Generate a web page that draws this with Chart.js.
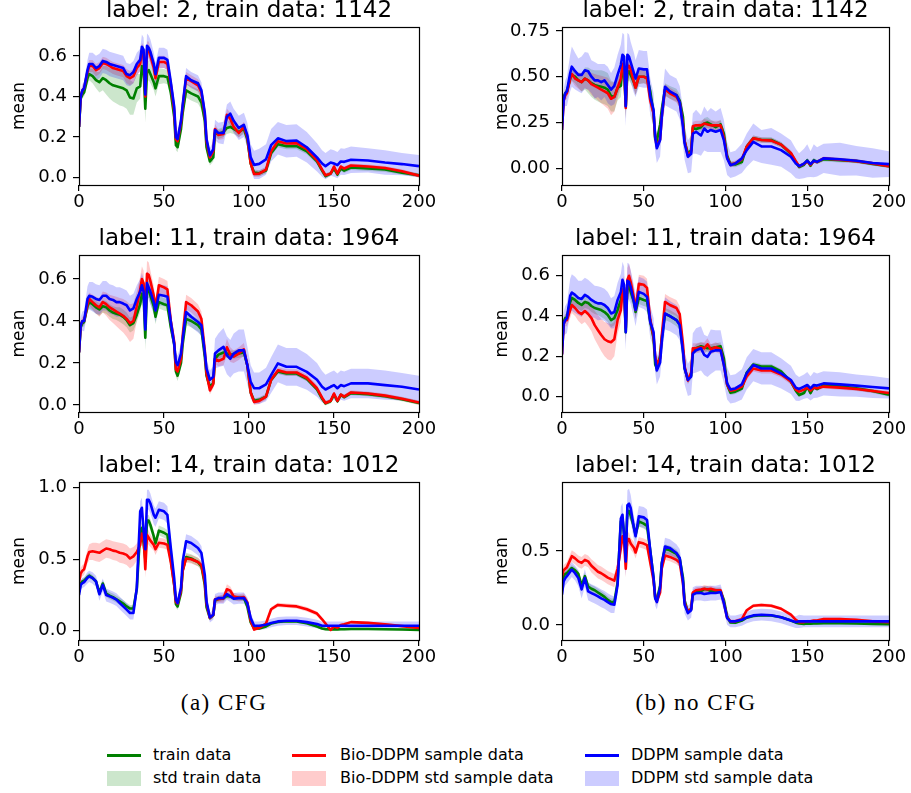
<!DOCTYPE html>
<html><head><meta charset="utf-8">
<script src="https://cdn.jsdelivr.net/npm/chart.js@4.4.1/dist/chart.umd.min.js"></script>
<style>
html,body{margin:0;padding:0;background:#fff;}
#wrap{position:relative;width:911px;height:793px;overflow:hidden;background:#fff;}
canvas{position:absolute;}
.cap{position:absolute;font-family:"Liberation Serif",serif;font-size:23px;letter-spacing:1.5px;color:#000;white-space:nowrap;transform:translate(-50%,-50%);}
.leg{position:absolute;font-family:"DejaVu Sans",sans-serif;font-size:16px;line-height:20px;color:#000;white-space:nowrap;}
.sw{position:absolute;}
</style></head><body><div id="wrap"></div>
<script>
// ---------- data ----------
const X = [0,1,2,3,5,6,8,10,12,14, 16,18,20,22,24,26,28,30,32,34, 36,37,38,39,40,41,42,44,45,47, 50,52,54,56,57,58,60,61,63,66, 70,72,74,75,77,79,80,82,85,87, 89,91,94,97,99,101,103,106,110,113, 117,122,128,134,140,143,145,148,150,152, 154,156,160,170,180,190,200];
const xTicks = [0,50,100,150,200];
const yTicksA = [0,0.2,0.4,0.6];
const yTicksB = [0,0.25,0.5,0.75];
const yTicksC = [0,0.5,1.0];
const yTicksD = [0,0.5];

// label 2
const train2 = [0.25,0.39,0.41,0.42,0.49,0.51,0.50,0.48,0.47,0.49, 0.48,0.465,0.455,0.45,0.445,0.44,0.43,0.395,0.39,0.44, 0.45,0.55,0.53,0.34,0.52,0.53,0.51,0.47,0.44,0.50, 0.50,0.495,0.42,0.30,0.16,0.15,0.24,0.32,0.43,0.415, 0.40,0.37,0.28,0.15,0.08,0.10,0.22,0.215,0.225,0.245, 0.25,0.24,0.225,0.24,0.19,0.07,0.025,0.022,0.035,0.12, 0.165,0.155,0.155,0.13,0.08,0.035,0.008,0.02,0.045,0.015, 0.045,0.035,0.05,0.045,0.04,0.025,0.012];
const train2Sd = [0.02,0.02,0.02,0.02,0.03,0.03,0.035,0.04,0.05,0.06, 0.07,0.075,0.08,0.085,0.09,0.09,0.09,0.085,0.08,0.07, 0.06,0.05,0.05,0.07,0.05,0.05,0.045,0.04,0.04,0.04, 0.035,0.035,0.035,0.03,0.025,0.025,0.03,0.03,0.035,0.035, 0.035,0.035,0.03,0.025,0.02,0.02,0.025,0.025,0.025,0.03, 0.03,0.025,0.025,0.025,0.025,0.02,0.015,0.015,0.015,0.015, 0.015,0.015,0.015,0.015,0.015,0.015,0.012,0.012,0.012,0.012, 0.012,0.012,0.012,0.012,0.012,0.01,0.01];
const bioCFG2 = [0.25,0.40,0.43,0.44,0.52,0.55,0.55,0.53,0.54,0.565, 0.56,0.55,0.54,0.535,0.53,0.525,0.50,0.49,0.50,0.54, 0.56,0.625,0.61,0.40,0.63,0.63,0.60,0.54,0.49,0.57, 0.57,0.56,0.46,0.33,0.19,0.18,0.27,0.35,0.49,0.475, 0.455,0.42,0.31,0.18,0.10,0.13,0.24,0.21,0.215,0.31, 0.29,0.25,0.22,0.25,0.20,0.07,0.018,0.02,0.04,0.13, 0.18,0.168,0.17,0.14,0.085,0.04,0.012,0.02,0.055,0.02, 0.055,0.045,0.06,0.055,0.048,0.032,0.01];
const bioCFG2Sd = [0.02,0.02,0.02,0.02,0.025,0.03,0.03,0.03,0.03,0.03, 0.03,0.03,0.03,0.03,0.03,0.03,0.035,0.035,0.035,0.035, 0.035,0.04,0.04,0.05,0.04,0.04,0.04,0.035,0.035,0.03, 0.03,0.03,0.03,0.025,0.02,0.02,0.025,0.025,0.03,0.03, 0.03,0.03,0.025,0.02,0.02,0.02,0.025,0.025,0.025,0.03, 0.03,0.025,0.025,0.025,0.025,0.02,0.015,0.015,0.015,0.015, 0.015,0.015,0.015,0.015,0.015,0.012,0.01,0.01,0.01,0.01, 0.01,0.01,0.01,0.01,0.01,0.01,0.01];
const ddpmCFG2 = [0.25,0.40,0.43,0.44,0.53,0.56,0.56,0.54,0.55,0.575, 0.57,0.56,0.555,0.55,0.545,0.54,0.51,0.505,0.52,0.56, 0.58,0.645,0.63,0.41,0.65,0.64,0.62,0.56,0.51,0.59, 0.59,0.58,0.47,0.35,0.20,0.19,0.28,0.36,0.50,0.48, 0.465,0.43,0.32,0.19,0.11,0.14,0.235,0.22,0.22,0.30, 0.315,0.28,0.245,0.26,0.21,0.10,0.063,0.068,0.09,0.16, 0.194,0.18,0.183,0.15,0.10,0.07,0.057,0.075,0.07,0.062, 0.08,0.078,0.088,0.085,0.075,0.067,0.057];
const ddpmCFG2Sd = [0.02,0.03,0.03,0.035,0.05,0.055,0.055,0.06,0.06,0.06, 0.06,0.06,0.06,0.06,0.06,0.06,0.055,0.055,0.055,0.055, 0.055,0.06,0.06,0.07,0.06,0.06,0.06,0.055,0.055,0.05, 0.05,0.05,0.05,0.045,0.04,0.04,0.04,0.04,0.04,0.04, 0.04,0.04,0.04,0.035,0.035,0.04,0.05,0.05,0.055,0.06, 0.06,0.06,0.06,0.06,0.06,0.065,0.07,0.075,0.075,0.08, 0.08,0.08,0.08,0.075,0.07,0.065,0.065,0.065,0.065,0.065, 0.065,0.065,0.065,0.06,0.06,0.055,0.055];
const bioNo2 = [0.21,0.37,0.40,0.41,0.49,0.515,0.49,0.48,0.47,0.49, 0.48,0.46,0.45,0.44,0.43,0.42,0.41,0.38,0.39,0.44, 0.49,0.57,0.55,0.33,0.56,0.56,0.54,0.47,0.44,0.50, 0.50,0.49,0.37,0.30,0.17,0.12,0.16,0.28,0.43,0.41, 0.39,0.36,0.24,0.15,0.07,0.09,0.23,0.235,0.235,0.245, 0.24,0.235,0.235,0.235,0.17,0.06,0.02,0.028,0.05,0.12, 0.165,0.155,0.152,0.13,0.085,0.04,0.012,0.025,0.04,0.02, 0.04,0.035,0.055,0.048,0.04,0.028,0.012];
const bioNo2Sd = [0.02,0.03,0.03,0.03,0.04,0.04,0.04,0.045,0.05,0.05, 0.055,0.06,0.065,0.07,0.075,0.08,0.085,0.09,0.08,0.06, 0.05,0.05,0.05,0.06,0.05,0.05,0.045,0.04,0.04,0.04, 0.035,0.035,0.035,0.03,0.025,0.025,0.025,0.03,0.03,0.03, 0.03,0.03,0.03,0.025,0.02,0.02,0.025,0.025,0.025,0.025, 0.025,0.025,0.025,0.025,0.025,0.02,0.015,0.015,0.015,0.015, 0.015,0.015,0.015,0.015,0.015,0.012,0.01,0.01,0.01,0.01, 0.01,0.01,0.01,0.01,0.01,0.01,0.01];
const ddpmNo2 = [0.21,0.37,0.41,0.42,0.52,0.555,0.53,0.51,0.51,0.535, 0.53,0.50,0.48,0.48,0.47,0.48,0.455,0.43,0.45,0.51, 0.565,0.62,0.61,0.34,0.62,0.61,0.58,0.52,0.49,0.545, 0.54,0.54,0.39,0.32,0.17,0.11,0.155,0.28,0.445,0.42, 0.40,0.36,0.227,0.136,0.064,0.08,0.19,0.20,0.18,0.218, 0.20,0.21,0.20,0.21,0.155,0.055,0.018,0.027,0.055,0.10, 0.145,0.12,0.12,0.10,0.064,0.027,0.013,0.027,0.042,0.024, 0.042,0.036,0.055,0.05,0.042,0.03,0.024];
const ddpmNo2Sd = [0.04,0.06,0.07,0.08,0.10,0.11,0.10,0.09,0.10,0.10, 0.10,0.09,0.10,0.09,0.10,0.09,0.10,0.09,0.10,0.11, 0.11,0.12,0.12,0.11,0.12,0.12,0.11,0.11,0.10,0.10, 0.10,0.10,0.10,0.09,0.08,0.08,0.09,0.09,0.10,0.09, 0.09,0.09,0.10,0.09,0.09,0.10,0.11,0.12,0.11,0.12, 0.11,0.12,0.11,0.12,0.11,0.09,0.07,0.07,0.08,0.09, 0.10,0.09,0.10,0.09,0.09,0.08,0.07,0.08,0.09,0.07, 0.09,0.08,0.08,0.09,0.08,0.08,0.07];

// label 11
const train11 = [0.25,0.37,0.39,0.395,0.47,0.49,0.48,0.465,0.455,0.47, 0.465,0.45,0.44,0.435,0.43,0.42,0.405,0.38,0.39,0.43, 0.48,0.53,0.52,0.32,0.55,0.55,0.52,0.47,0.42,0.49, 0.48,0.475,0.37,0.29,0.16,0.14,0.20,0.29,0.41,0.40, 0.38,0.36,0.23,0.14,0.085,0.105,0.22,0.24,0.25,0.245, 0.24,0.24,0.245,0.25,0.19,0.06,0.02,0.025,0.04,0.12, 0.16,0.15,0.15,0.125,0.075,0.03,0.008,0.018,0.05,0.018, 0.048,0.038,0.057,0.052,0.042,0.028,0.01];
const train11Sd = [0.02,0.02,0.02,0.02,0.025,0.03,0.03,0.03,0.03,0.03, 0.03,0.03,0.03,0.03,0.035,0.035,0.035,0.035,0.035,0.035, 0.04,0.04,0.04,0.06,0.04,0.04,0.04,0.035,0.035,0.03, 0.03,0.03,0.03,0.03,0.025,0.025,0.025,0.03,0.03,0.03, 0.03,0.03,0.025,0.02,0.02,0.02,0.02,0.02,0.02,0.02, 0.02,0.02,0.02,0.02,0.02,0.015,0.012,0.012,0.012,0.012, 0.012,0.012,0.012,0.012,0.012,0.01,0.01,0.01,0.01,0.01, 0.01,0.01,0.01,0.01,0.01,0.01,0.01];
const bioCFG11 = [0.25,0.38,0.40,0.40,0.48,0.505,0.49,0.475,0.465,0.49, 0.48,0.465,0.455,0.445,0.435,0.425,0.41,0.39,0.40,0.47, 0.55,0.60,0.58,0.40,0.625,0.62,0.59,0.52,0.46,0.57, 0.56,0.55,0.40,0.30,0.17,0.16,0.22,0.33,0.49,0.475, 0.445,0.41,0.26,0.15,0.07,0.10,0.22,0.21,0.22,0.275, 0.24,0.23,0.245,0.265,0.19,0.06,0.015,0.02,0.04,0.12, 0.165,0.155,0.155,0.13,0.08,0.035,0.01,0.02,0.055,0.02, 0.05,0.04,0.06,0.055,0.045,0.03,0.012];
const bioCFG11Sd = [0.02,0.02,0.02,0.02,0.03,0.03,0.035,0.04,0.045,0.05, 0.055,0.06,0.065,0.07,0.075,0.08,0.085,0.09,0.085,0.07, 0.06,0.06,0.06,0.07,0.06,0.06,0.05,0.045,0.04,0.04, 0.04,0.04,0.04,0.035,0.03,0.03,0.03,0.03,0.035,0.035, 0.035,0.035,0.03,0.025,0.02,0.02,0.025,0.025,0.03,0.04, 0.035,0.03,0.03,0.03,0.025,0.02,0.015,0.015,0.015,0.015, 0.015,0.015,0.015,0.015,0.015,0.012,0.01,0.01,0.01,0.01, 0.01,0.01,0.01,0.01,0.01,0.01,0.01];
const ddpmCFG11 = [0.25,0.38,0.40,0.40,0.505,0.52,0.515,0.505,0.50,0.52, 0.52,0.505,0.50,0.49,0.49,0.483,0.475,0.45,0.46,0.505, 0.54,0.57,0.54,0.36,0.58,0.56,0.54,0.49,0.45,0.525, 0.52,0.515,0.395,0.29,0.205,0.19,0.245,0.315,0.443,0.42, 0.395,0.38,0.25,0.175,0.12,0.135,0.245,0.26,0.277,0.237, 0.22,0.245,0.26,0.26,0.19,0.11,0.08,0.08,0.098,0.142, 0.198,0.182,0.182,0.158,0.12,0.087,0.074,0.087,0.095,0.08, 0.095,0.09,0.103,0.103,0.095,0.087,0.074];
const ddpmCFG11Sd = [0.03,0.04,0.045,0.05,0.06,0.065,0.07,0.07,0.07,0.07, 0.07,0.07,0.07,0.07,0.07,0.07,0.07,0.07,0.07,0.065, 0.06,0.06,0.06,0.07,0.06,0.06,0.06,0.055,0.055,0.05, 0.05,0.05,0.05,0.05,0.045,0.045,0.045,0.05,0.05,0.05, 0.05,0.05,0.05,0.045,0.045,0.05,0.07,0.08,0.09,0.09, 0.09,0.095,0.1,0.1,0.09,0.08,0.075,0.075,0.08,0.085, 0.09,0.09,0.09,0.085,0.08,0.075,0.07,0.07,0.07,0.07, 0.07,0.07,0.07,0.07,0.07,0.065,0.065];
const bioNo11 = [0.21,0.36,0.38,0.38,0.43,0.455,0.44,0.42,0.41,0.425, 0.41,0.39,0.355,0.33,0.306,0.285,0.275,0.27,0.285,0.38, 0.43,0.52,0.54,0.34,0.58,0.60,0.57,0.49,0.43,0.56, 0.555,0.54,0.38,0.30,0.20,0.16,0.19,0.30,0.47,0.455, 0.44,0.41,0.26,0.15,0.08,0.12,0.24,0.24,0.245,0.24, 0.26,0.235,0.245,0.235,0.16,0.06,0.03,0.035,0.05,0.10, 0.14,0.13,0.13,0.11,0.075,0.035,0.025,0.035,0.045,0.03, 0.045,0.042,0.05,0.045,0.038,0.028,0.018];
const bioNo11Sd = [0.02,0.03,0.03,0.03,0.04,0.04,0.04,0.045,0.05,0.055, 0.06,0.065,0.07,0.075,0.08,0.085,0.09,0.09,0.085,0.07, 0.06,0.06,0.06,0.07,0.06,0.06,0.055,0.05,0.045,0.045, 0.045,0.045,0.04,0.035,0.03,0.03,0.03,0.035,0.04,0.04, 0.04,0.04,0.035,0.025,0.02,0.02,0.025,0.025,0.025,0.03, 0.03,0.025,0.025,0.025,0.025,0.02,0.015,0.015,0.015,0.015, 0.015,0.015,0.015,0.015,0.015,0.012,0.01,0.01,0.01,0.01, 0.01,0.01,0.01,0.01,0.01,0.01,0.01];
const ddpmNo11 = [0.21,0.36,0.38,0.39,0.50,0.517,0.505,0.49,0.485,0.505, 0.495,0.48,0.47,0.463,0.463,0.455,0.44,0.413,0.42,0.48, 0.52,0.58,0.555,0.32,0.575,0.57,0.545,0.47,0.43,0.52, 0.51,0.495,0.37,0.32,0.19,0.13,0.17,0.27,0.413,0.40, 0.38,0.355,0.223,0.14,0.083,0.10,0.215,0.23,0.24,0.207, 0.198,0.223,0.23,0.23,0.157,0.066,0.036,0.041,0.061,0.116, 0.157,0.14,0.14,0.116,0.083,0.045,0.038,0.05,0.058,0.041, 0.058,0.055,0.066,0.061,0.055,0.048,0.041];
const ddpmNo11Sd = [0.04,0.06,0.07,0.075,0.085,0.09,0.09,0.085,0.09,0.085, 0.085,0.085,0.08,0.085,0.08,0.08,0.08,0.075,0.08,0.085, 0.09,0.09,0.09,0.09,0.09,0.09,0.085,0.08,0.08,0.075, 0.075,0.075,0.08,0.07,0.07,0.07,0.07,0.075,0.08,0.075, 0.075,0.075,0.08,0.08,0.08,0.09,0.1,0.11,0.11,0.1, 0.1,0.11,0.1,0.1,0.09,0.08,0.07,0.07,0.075,0.08, 0.08,0.08,0.08,0.075,0.07,0.065,0.06,0.06,0.065,0.06, 0.065,0.06,0.06,0.06,0.055,0.055,0.05];

// label 14
const train14 = [0.27,0.33,0.345,0.35,0.375,0.385,0.37,0.345,0.265,0.33, 0.26,0.245,0.235,0.22,0.205,0.19,0.17,0.155,0.155,0.29, 0.70,0.72,0.61,0.50,0.77,0.77,0.74,0.66,0.61,0.70, 0.685,0.67,0.50,0.32,0.185,0.17,0.265,0.42,0.515,0.505, 0.48,0.45,0.32,0.165,0.088,0.108,0.21,0.223,0.228,0.243, 0.24,0.23,0.23,0.228,0.17,0.058,0.017,0.015,0.03,0.05, 0.061,0.066,0.065,0.052,0.03,0.016,0.011,0.008,0.01,0.009, 0.01,0.01,0.012,0.012,0.01,0.008,0.006];
const train14Sd = [0.02,0.02,0.02,0.02,0.02,0.02,0.02,0.02,0.025,0.025, 0.025,0.025,0.025,0.025,0.025,0.025,0.025,0.025,0.025,0.03, 0.04,0.04,0.04,0.05,0.04,0.04,0.04,0.035,0.035,0.035, 0.035,0.035,0.035,0.03,0.025,0.025,0.025,0.03,0.03,0.03, 0.03,0.03,0.025,0.02,0.015,0.015,0.02,0.02,0.02,0.02, 0.02,0.02,0.02,0.02,0.02,0.015,0.01,0.01,0.01,0.01, 0.01,0.01,0.01,0.01,0.01,0.008,0.008,0.008,0.008,0.008, 0.008,0.008,0.008,0.008,0.008,0.008,0.008];
const bioCFG14 = [0.34,0.40,0.42,0.43,0.52,0.55,0.555,0.55,0.545,0.56, 0.575,0.57,0.56,0.555,0.545,0.54,0.53,0.505,0.52,0.55, 0.60,0.68,0.66,0.43,0.67,0.65,0.63,0.60,0.57,0.615, 0.61,0.60,0.48,0.32,0.20,0.19,0.28,0.42,0.505,0.50, 0.48,0.46,0.34,0.19,0.09,0.11,0.22,0.22,0.225,0.29, 0.28,0.24,0.23,0.235,0.20,0.07,0.008,0.02,0.05,0.15, 0.18,0.175,0.17,0.15,0.12,0.08,0.05,0.005,0.03,0.02, 0.04,0.045,0.06,0.055,0.045,0.032,0.02];
const bioCFG14Sd = [0.03,0.04,0.04,0.04,0.05,0.055,0.06,0.065,0.065,0.065, 0.065,0.065,0.065,0.065,0.07,0.07,0.07,0.07,0.065,0.06, 0.055,0.05,0.05,0.06,0.05,0.05,0.045,0.04,0.04,0.035, 0.035,0.035,0.035,0.03,0.025,0.025,0.025,0.03,0.03,0.03, 0.03,0.03,0.03,0.025,0.02,0.02,0.025,0.025,0.03,0.035, 0.03,0.025,0.025,0.025,0.025,0.02,0.012,0.012,0.012,0.015, 0.015,0.015,0.015,0.015,0.015,0.012,0.01,0.008,0.008,0.008, 0.008,0.008,0.008,0.008,0.008,0.008,0.008];
const ddpmCFG14 = [0.25,0.32,0.333,0.34,0.37,0.38,0.368,0.345,0.255,0.32, 0.25,0.24,0.23,0.217,0.193,0.17,0.147,0.124,0.124,0.30, 0.835,0.86,0.70,0.57,0.916,0.916,0.89,0.81,0.79,0.846, 0.835,0.81,0.58,0.368,0.217,0.193,0.30,0.485,0.625,0.613, 0.578,0.543,0.39,0.205,0.093,0.112,0.217,0.228,0.228,0.256, 0.24,0.224,0.228,0.228,0.193,0.088,0.035,0.035,0.042,0.054, 0.065,0.07,0.07,0.06,0.047,0.035,0.035,0.035,0.035,0.035, 0.035,0.035,0.035,0.035,0.035,0.035,0.035];
const ddpmCFG14Sd = [0.03,0.035,0.035,0.035,0.04,0.04,0.04,0.04,0.045,0.045, 0.045,0.045,0.045,0.045,0.045,0.045,0.045,0.045,0.045,0.05, 0.07,0.07,0.07,0.08,0.07,0.07,0.07,0.065,0.065,0.06, 0.06,0.06,0.06,0.05,0.04,0.04,0.045,0.05,0.05,0.05, 0.05,0.05,0.045,0.04,0.035,0.035,0.04,0.04,0.04,0.04, 0.04,0.04,0.04,0.04,0.04,0.035,0.03,0.03,0.03,0.03, 0.03,0.03,0.03,0.03,0.03,0.03,0.03,0.03,0.03,0.03, 0.03,0.03,0.03,0.03,0.03,0.03,0.03];
const bioNo14 = [0.33,0.37,0.38,0.39,0.44,0.465,0.45,0.43,0.42,0.44, 0.43,0.40,0.38,0.36,0.35,0.335,0.32,0.31,0.30,0.38, 0.52,0.60,0.56,0.38,0.58,0.58,0.55,0.52,0.49,0.56, 0.55,0.54,0.42,0.30,0.19,0.16,0.22,0.38,0.47,0.46, 0.44,0.42,0.28,0.15,0.09,0.11,0.22,0.235,0.24,0.245, 0.24,0.245,0.235,0.235,0.15,0.05,0.025,0.025,0.04,0.10, 0.13,0.135,0.13,0.11,0.07,0.035,0.02,0.02,0.025,0.025, 0.03,0.03,0.04,0.04,0.035,0.025,0.02];
const bioNo14Sd = [0.03,0.035,0.035,0.035,0.04,0.04,0.04,0.04,0.04,0.04, 0.04,0.045,0.045,0.045,0.045,0.045,0.045,0.045,0.045,0.045, 0.045,0.045,0.045,0.06,0.045,0.045,0.04,0.04,0.04,0.035, 0.035,0.035,0.035,0.03,0.025,0.025,0.025,0.03,0.03,0.03, 0.03,0.03,0.03,0.025,0.02,0.02,0.02,0.02,0.02,0.025, 0.025,0.02,0.02,0.02,0.02,0.015,0.012,0.012,0.012,0.012, 0.012,0.012,0.012,0.012,0.012,0.01,0.01,0.01,0.01,0.01, 0.01,0.01,0.01,0.01,0.01,0.01,0.01];
const ddpmNo14 = [0.205,0.295,0.317,0.33,0.36,0.374,0.35,0.317,0.24,0.317, 0.227,0.216,0.205,0.194,0.18,0.17,0.155,0.142,0.137,0.27, 0.72,0.745,0.60,0.43,0.81,0.82,0.79,0.655,0.60,0.734, 0.727,0.71,0.50,0.317,0.18,0.155,0.25,0.41,0.53,0.52, 0.486,0.453,0.295,0.137,0.081,0.10,0.205,0.216,0.216,0.21, 0.213,0.216,0.216,0.223,0.149,0.047,0.025,0.025,0.036,0.052, 0.065,0.07,0.066,0.052,0.03,0.02,0.025,0.025,0.025,0.025, 0.025,0.025,0.025,0.025,0.025,0.025,0.025];
const ddpmNo14Sd = [0.04,0.05,0.05,0.05,0.05,0.05,0.05,0.055,0.06,0.06, 0.06,0.06,0.06,0.06,0.06,0.06,0.06,0.06,0.055,0.06, 0.08,0.08,0.09,0.1,0.1,0.1,0.09,0.08,0.08,0.07, 0.07,0.07,0.07,0.06,0.05,0.05,0.05,0.06,0.06,0.06, 0.06,0.06,0.06,0.06,0.05,0.05,0.05,0.05,0.05,0.05, 0.05,0.05,0.05,0.05,0.05,0.045,0.04,0.04,0.04,0.04, 0.04,0.04,0.04,0.04,0.04,0.04,0.045,0.04,0.04,0.04, 0.04,0.04,0.04,0.04,0.04,0.04,0.04];

const legendLines = ['train data','Bio-DDPM sample data','DDPM sample data'];
const legendBands = ['std train data','Bio-DDPM std sample data','DDPM std sample data'];
const captions = ['(a) CFG','(b) no CFG'];

// ---------- layout / styling ----------
const panels = [
  {left:0,   top:0,   w:441, h:215, title:'label: 2, train data: 1142',  s:[train2,train2Sd,bioCFG2,bioCFG2Sd,ddpmCFG2,ddpmCFG2Sd],   yMin:-0.036, yMax:0.742, yTicks:yTicksA, dec:1},
  {left:483, top:0,   w:428, h:215, title:'label: 2, train data: 1142',  s:[train2,train2Sd,bioNo2,bioNo2Sd,ddpmNo2,ddpmNo2Sd],       yMin:-0.090, yMax:0.771, yTicks:yTicksB, dec:2},
  {left:0,   top:228, w:441, h:214, title:'label: 11, train data: 1964', s:[train11,train11Sd,bioCFG11,bioCFG11Sd,ddpmCFG11,ddpmCFG11Sd], yMin:-0.033, yMax:0.714, yTicks:yTicksA, dec:1},
  {left:483, top:228, w:428, h:214, title:'label: 11, train data: 1964', s:[train11,train11Sd,bioNo11,bioNo11Sd,ddpmNo11,ddpmNo11Sd],   yMin:-0.076, yMax:0.703, yTicks:yTicksA, dec:1},
  {left:0,   top:455, w:441, h:215, title:'label: 14, train data: 1012', s:[train14,train14Sd,bioCFG14,bioCFG14Sd,ddpmCFG14,ddpmCFG14Sd], yMin:-0.065, yMax:1.040, yTicks:yTicksC, dec:1},
  {left:483, top:455, w:428, h:215, title:'label: 14, train data: 1012', s:[train14,train14Sd,bioNo14,bioNo14Sd,ddpmNo14,ddpmNo14Sd],   yMin:-0.101, yMax:0.966, yTicks:yTicksD, dec:1},
];
const lineCol = ['rgb(0,128,0)','rgb(255,0,0)','rgb(0,0,255)'];
const bandCol = ['rgba(0,128,0,0.2)','rgba(255,0,0,0.2)','rgba(0,0,255,0.2)'];

panels.forEach(p => p.s.forEach(a => { if (a.length !== X.length) throw new Error('length mismatch in ' + p.title + ': ' + a.length); }));

const FONT = '"DejaVu Sans", sans-serif';
const spines = {
  id: 'spines',
  afterDatasetsDraw(chart) {
    const a = chart.chartArea, c = chart.ctx;
    c.save(); c.strokeStyle = '#000'; c.lineWidth = 1.2;
    const l = Math.round(a.left), t = Math.round(a.top), r = Math.round(a.right), b = Math.round(a.bottom);
    c.strokeRect(l + 0.5, t + 0.5, r - l, b - t);
    c.restore();
  }
};

const wrap = document.getElementById('wrap');
const pts = (ys) => X.map((x, i) => ({x: x, y: ys[i]}));
const band = (m, s, k) => X.map((x, i) => ({x: x, y: m[i] + k * s[i]}));

panels.forEach(p => {
  const cv = document.createElement('canvas');
  cv.width = p.w; cv.height = p.h;
  cv.style.left = p.left + 'px'; cv.style.top = p.top + 'px';
  cv.style.width = p.w + 'px'; cv.style.height = p.h + 'px';
  wrap.appendChild(cv);
  const ds = [];
  for (let k = 0; k < 3; k++) {
    const m = p.s[2 * k], sd = p.s[2 * k + 1];
    const lo = ds.length;
    ds.push({data: band(m, sd, -1), borderWidth: 0, pointRadius: 0, fill: false, order: 12 - k, borderColor: 'rgba(0,0,0,0)'});
    ds.push({data: band(m, sd, 1), borderWidth: 0, pointRadius: 0, fill: {target: lo}, backgroundColor: bandCol[k], order: 12 - k, borderColor: 'rgba(0,0,0,0)'});
  }
  for (let k = 0; k < 3; k++) {
    ds.push({data: pts(p.s[2 * k]), borderColor: lineCol[k], borderWidth: 2.6, pointRadius: 0, fill: false, tension: 0, order: 2 - k, borderJoinStyle: 'round', borderCapStyle: 'butt'});
  }
  const gridOpt = {display: true, drawOnChartArea: false, drawTicks: true, tickLength: 6, color: '#000', tickColor: '#000', lineWidth: 1.2};
  new Chart(cv, {
    type: 'line',
    data: {datasets: ds},
    plugins: [spines],
    options: {
      responsive: false, animation: false, events: [],
      layout: {padding: {left: 0, right: 22, top: 0, bottom: 0}},
      plugins: {
        legend: {display: false}, tooltip: {enabled: false},
        title: {display: true, text: p.title, fullSize: false, color: '#000',
          font: {family: FONT, size: 23, weight: 'normal', lineHeight: 1}, padding: {top: 0, bottom: 4}}
      },
      scales: {
        x: {type: 'linear', min: 0, max: 200,
          afterFit: s => { s.height = 30; },
          afterBuildTicks: s => { s.ticks = xTicks.map(v => ({value: v})); },
          grid: gridOpt, border: {display: false},
          ticks: {color: '#000', font: {family: FONT, size: 18}, padding: 1, maxRotation: 0, autoSkip: false, callback: v => String(v)}},
        y: {type: 'linear', min: p.yMin, max: p.yMax,
          afterFit: s => { s.width = 79; },
          afterBuildTicks: s => { s.ticks = p.yTicks.map(v => ({value: v})); },
          grid: gridOpt, border: {display: false},
          ticks: {color: '#000', font: {family: FONT, size: 18}, padding: 6, autoSkip: false, callback: v => Number(v).toFixed(p.dec)},
          title: {display: true, text: 'mean', color: '#000', font: {family: FONT, size: 17}, padding: {top: 9, bottom: 0}}}
      }
    }
  });
});

// captions
[[224, 703], [696, 703]].forEach((pos, i) => {
  const d = document.createElement('div'); d.className = 'cap';
  d.style.left = pos[0] + 'px'; d.style.top = pos[1] + 'px'; d.textContent = captions[i];
  wrap.appendChild(d);
});

// legend
const swL = [107, 292, 585], txL = [153, 340, 631];
for (let k = 0; k < 3; k++) {
  const l1 = document.createElement('div'); l1.className = 'sw';
  Object.assign(l1.style, {left: swL[k] + 'px', top: '754px', width: '34px', height: '3px', background: lineCol[k]});
  wrap.appendChild(l1);
  const t1 = document.createElement('div'); t1.className = 'leg';
  Object.assign(t1.style, {left: txL[k] + 'px', top: '745px'}); t1.textContent = legendLines[k];
  wrap.appendChild(t1);
  const b1 = document.createElement('div'); b1.className = 'sw';
  Object.assign(b1.style, {left: swL[k] + 'px', top: '771px', width: '34px', height: '15px', background: bandCol[k]});
  wrap.appendChild(b1);
  const t2 = document.createElement('div'); t2.className = 'leg';
  Object.assign(t2.style, {left: txL[k] + 'px', top: '768px'}); t2.textContent = legendBands[k];
  wrap.appendChild(t2);
}
</script>
</body></html>
